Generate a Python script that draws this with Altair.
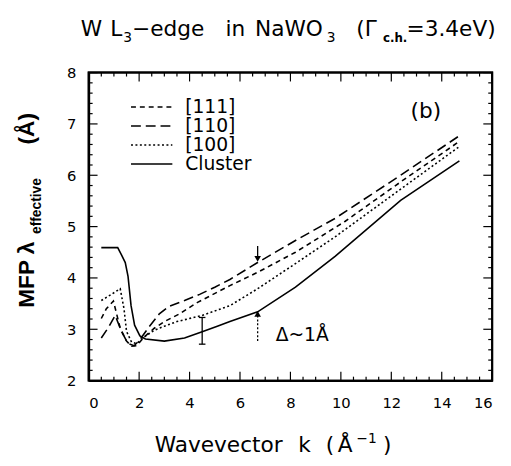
import altair as alt
import pandas as pd

# ---------------- data ----------------
k_111 = [0.5, 0.7, 0.98, 1.25, 1.5, 1.7, 1.9, 2.2, 2.6, 3.0, 3.6, 4.3, 5.6, 6.7, 8.2, 10.16, 12.37, 14.7]
v_111 = [3.21, 3.40, 3.55, 3.02, 2.77, 2.67, 2.68, 2.85, 3.02, 3.15, 3.30, 3.52, 3.85, 4.11, 4.50, 5.10, 5.87, 6.66]

k_110 = [0.5, 0.8, 1.05, 1.3, 1.56, 1.8, 2.0, 2.4, 2.8, 3.2, 3.8, 4.4, 5.0, 5.6, 6.7, 8.2, 9.77, 12.37, 14.7]
v_110 = [2.83, 3.05, 3.27, 2.96, 2.72, 2.68, 2.78, 3.05, 3.30, 3.45, 3.56, 3.68, 3.82, 3.97, 4.30, 4.73, 5.16, 6.00, 6.77]

k_100 = [0.5, 0.9, 1.25, 1.4, 1.5, 1.7, 1.9, 2.2, 2.6, 3.0, 3.5, 4.5, 5.6, 6.7, 8.2, 9.77, 12.37, 14.7]
v_100 = [3.56, 3.68, 3.79, 3.40, 2.96, 2.75, 2.72, 2.85, 2.98, 3.06, 3.15, 3.27, 3.46, 3.79, 4.28, 4.80, 5.73, 6.56]

k_cl = [0.5, 1.15, 1.3, 1.45, 1.56, 1.68, 1.82, 2.03, 2.25, 3.0, 3.8, 4.5, 5.1, 5.6, 6.7, 8.2, 9.77, 12.37, 14.7]
v_cl = [4.59, 4.59, 4.45, 4.30, 4.03, 3.46, 3.08, 2.87, 2.81, 2.77, 2.83, 2.95, 3.06, 3.15, 3.34, 3.82, 4.42, 5.51, 6.28]

series_names = ["[111]", "[110]", "[100]", "Cluster"]
series_k = [k_111, k_110, k_100, k_cl]
series_v = [v_111, v_110, v_100, v_cl]
series_dash = [[5, 4], [10, 5], [2, 2.5], None]

x_major = [0, 2, 4, 6, 8, 10, 12, 14, 16]
x_minor = [v / 2 for v in range(0, 33) if v % 4 != 0]
y_major = [2, 3, 4, 5, 6, 7, 8]
y_minor = [2 + v / 5 for v in range(0, 31) if v % 5 != 0]

arrow_k = [6.7]
arrow_down = [4.62, 4.37]
arrow_up = [2.77, 3.30]
err_k = [4.5]
err_lo_hi = [2.71, 3.23]
err_half = 0.13

# ---------------- layout ----------------
W, H = 410, 313
XMIN, XMAX, YMIN, YMAX = 0, 16, 2, 8
FONT = "DejaVu Sans"
PX0, PY0 = 90, 70  # page position of plot origin
KPX = W / (XMAX - XMIN)
VPX = H / (YMAX - YMIN)

xs = alt.Scale(domain=[XMIN, XMAX], nice=False, zero=False)
ys = alt.Scale(domain=[YMIN, YMAX], nice=False, zero=False)
AX = alt.Axis(values=x_major, title=None, ticks=False, grid=False, domain=True, domainColor="black",
              domainWidth=2, labelFontSize=15, labelFont=FONT, labelColor="black", labelPadding=15)
AY = alt.Axis(values=y_major, title=None, ticks=False, grid=False, domain=True, domainColor="black",
              domainWidth=2, labelFontSize=15, labelFont=FONT, labelColor="black", labelPadding=13)


def X(f):
    return alt.X(f, scale=xs, axis=AX)


def Y(f):
    return alt.Y(f, scale=ys, axis=AY)


line_layers = []
for name, ks, vs, dash in zip(series_names, series_k, series_v, series_dash):
    d = pd.DataFrame({"k": ks, "v": vs})
    kw = {"color": "black", "strokeWidth": 1.6}
    if dash is not None:
        kw["strokeDash"] = dash
    line_layers.append(alt.Chart(d).mark_line(**kw).encode(x=X("k:Q"), y=Y("v:Q")))

# inward tick marks built from the tick value lists
vt = []
for t in x_major:
    vt.append({"t": t, "a": YMIN, "b": YMIN + 9 / VPX})
    vt.append({"t": t, "a": YMAX, "b": YMAX - 9 / VPX})
for t in x_minor:
    vt.append({"t": t, "a": YMIN, "b": YMIN + 4 / VPX})
    vt.append({"t": t, "a": YMAX, "b": YMAX - 4 / VPX})
ht = []
for t in y_major:
    ht.append({"t": t, "a": XMIN, "b": XMIN + 9 / KPX})
    ht.append({"t": t, "a": XMAX, "b": XMAX - 9 / KPX})
for t in y_minor:
    ht.append({"t": t, "a": XMIN, "b": XMIN + 4 / KPX})
    ht.append({"t": t, "a": XMAX, "b": XMAX - 4 / KPX})
vticks = alt.Chart(pd.DataFrame(vt)).mark_rule(color="black", strokeWidth=1.2).encode(
    x=X("t:Q"), y=Y("a:Q"), y2="b:Q")
hticks = alt.Chart(pd.DataFrame(ht)).mark_rule(color="black", strokeWidth=1.2).encode(
    y=Y("t:Q"), x=X("a:Q"), x2="b:Q")

one = pd.DataFrame({"d": [0]})
frame = alt.Chart(one).mark_rect(filled=False, stroke="black", strokeWidth=2).encode(
    x=alt.value(0), x2=alt.value(W), y=alt.value(0), y2=alt.value(H))


# ---------------- texts (one layer per style, pixel positions) ----------------
def T(s, px, py):
    return {"s": s, "px": px - PX0, "py": py - PY0}


title_big = [T("W", 82, 33), T("L", 112, 33), T("\u2212edge", 134, 33), T("in", 229, 33),
             T("NaWO", 259, 33), T("(\u0393", 362, 33), T("=3.4eV)", 413, 33),
             T("Wavevector", 157, 456), T("k", 303, 456), T("(", 331, 456), T("\u00c5", 343, 456),
             T(")", 389, 456), T("(b)", 417, 116)]
subs = [T("3", 125, 39), T("3", 332, 39), T("\u22121", 362, 446)]
legend_txt = [T(n, 188, 105 + 19.3 * i + 6) for i, n in enumerate(series_names)] + [T("\u0394~1\u00c5", 280, 343)]


def text_layer(items, size, weight="normal", angle=0, font=FONT):
    d = pd.DataFrame(items)
    return alt.Chart(d).mark_text(fontSize=size, font=font, fontWeight=weight, angle=angle,
                                  align="left", baseline="alphabetic", color="black").encode(
        x=alt.X("px:Q", scale=None), y=alt.Y("py:Q", scale=None), text="s:N")


texts = [
    text_layer(title_big, 22),
    text_layer(subs, 14),
    text_layer([T("c.h.", 389, 39)], 12, "bold"),
    text_layer(legend_txt, 19),
    text_layer([T("MFP \u03bb", 34, 309), T("(\u00c5)", 34, 143)], 23, "bold", 270, "Liberation Sans"),
    text_layer([T("effective", 42, 234)], 14, "bold", 270, "Liberation Sans"),
]

# legend samples
leg = []
for i, dash in enumerate(series_dash):
    yy = 105 + 19.3 * i - PY0
    kw = {"color": "black", "strokeWidth": 1.6}
    if dash is not None:
        kw["strokeDash"] = dash
    leg.append(alt.Chart(one).mark_rule(**kw).encode(
        x=alt.value(133 - PX0), x2=alt.value(175 - PX0), y=alt.value(yy)))

# arrows & error bar
ad = pd.DataFrame({"k": arrow_k, "a": [arrow_down[0]], "b": [arrow_down[1]]})
au = pd.DataFrame({"k": arrow_k, "a": [arrow_up[0]], "b": [arrow_up[1]]})
ann = [
    alt.Chart(ad).mark_rule(color="black", strokeWidth=1.3).encode(x=X("k:Q"), y=Y("a:Q"), y2="b:Q"),
    alt.Chart(ad).mark_point(shape="triangle-down", filled=True, color="black", size=45, opacity=1).encode(
        x=X("k:Q"), y=Y("b:Q")),
    alt.Chart(au).mark_rule(color="black", strokeWidth=1.3, strokeDash=[2, 2]).encode(
        x=X("k:Q"), y=Y("a:Q"), y2="b:Q"),
    alt.Chart(au).mark_point(shape="triangle-up", filled=True, color="black", size=45, opacity=1).encode(
        x=X("k:Q"), y=Y("b:Q")),
]
ed = pd.DataFrame({"k": err_k, "lo": [err_lo_hi[0]], "hi": [err_lo_hi[1]],
                   "k0": [err_k[0] - err_half], "k1": [err_k[0] + err_half]})
ann += [
    alt.Chart(ed).mark_rule(color="black", strokeWidth=1.3).encode(x=X("k:Q"), y=Y("lo:Q"), y2="hi:Q"),
    alt.Chart(ed).mark_rule(color="black", strokeWidth=1.3).encode(x=X("k0:Q"), x2="k1:Q", y=Y("lo:Q")),
    alt.Chart(ed).mark_rule(color="black", strokeWidth=1.3).encode(x=X("k0:Q"), x2="k1:Q", y=Y("hi:Q")),
]

chart = alt.layer(frame, vticks, hticks, *line_layers, *ann, *leg, *texts).properties(
    width=W, height=H,
    autosize=alt.AutoSizeParams(type="none"),
    padding={"left": 82, "top": 62, "right": 11, "bottom": 75},
    background="white",
).configure_view(stroke="black", strokeWidth=2)

chart.save("out.html", embed_options={"renderer": "svg", "actions": False})
